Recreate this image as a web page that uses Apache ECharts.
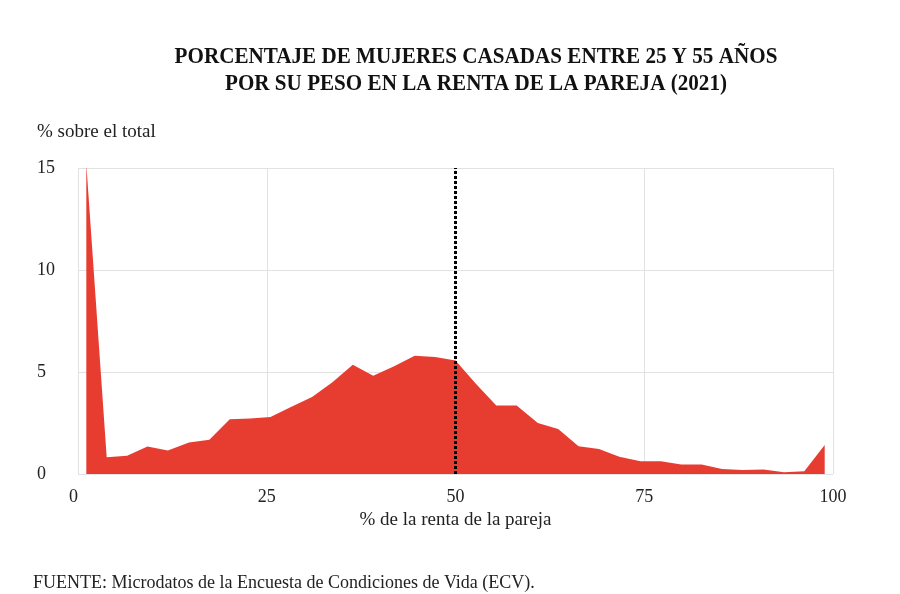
<!DOCTYPE html>
<html>
<head>
<meta charset="utf-8">
<script src="https://cdn.jsdelivr.net/npm/echarts@6/dist/echarts.min.js"></script>
<style>
  html, body { margin: 0; padding: 0; background: #fff; }
  #main { width: 900px; height: 594px; }
</style>
</head>
<body>
<div id="main"></div>
<script>
// % de la renta de la pareja (posicion de cada tramo)
var rentaX = [1.1, 3.8, 6.5, 9.2, 11.9, 14.7, 17.4, 20.1, 22.8, 25.5, 28.2, 31.0, 33.7,
              36.4, 39.1, 41.8, 44.6, 47.3, 50.0, 52.7, 55.4, 58.1, 60.9, 63.6, 66.3,
              69.0, 71.7, 74.5, 77.2, 79.9, 82.6, 85.3, 88.0, 90.8, 93.5, 96.2, 98.9];
// % sobre el total de mujeres
var porcentaje = [15.2, 0.82, 0.9, 1.35, 1.15, 1.55, 1.68, 2.68, 2.72, 2.79, 3.28, 3.78, 4.5,
                  5.36, 4.82, 5.27, 5.8, 5.74, 5.56, 4.43, 3.36, 3.36, 2.5, 2.2, 1.36,
                  1.23, 0.85, 0.62, 0.62, 0.46, 0.46, 0.24, 0.2, 0.22, 0.08, 0.14, 1.42];
var mitad = 50;

var serif = 'Liberation Serif';
var datos = rentaX.map(function (x, i) { return [x, porcentaje[i]]; });

var myChart = echarts.init(document.getElementById('main'));
var option = {
  backgroundColor: '#fff',
  animation: false,
  title: [
    { text: '% sobre el total', left: 37, top: 123, padding: 0,
      textStyle: { fontFamily: serif, fontSize: 19, fontWeight: 'normal', color: '#222' } },
    { text: 'FUENTE: Microdatos de la Encuesta de Condiciones de Vida (ECV).', left: 33, top: 574, padding: 0,
      textStyle: { fontFamily: serif, fontSize: 18, fontWeight: 'normal', color: '#222' } }
  ],
  graphic: [
    { type: 'text', x: 476, y: 57, scaleX: 0.88,
      style: { text: 'PORCENTAJE DE MUJERES CASADAS ENTRE 25 Y 55 AÑOS', font: 'bold 24px "Liberation Serif"',
               fill: '#111', textAlign: 'center', textVerticalAlign: 'middle' } },
    { type: 'text', x: 476, y: 84, scaleX: 0.88,
      style: { text: 'POR SU PESO EN LA RENTA DE LA PAREJA (2021)', font: 'bold 24px "Liberation Serif"',
               fill: '#111', textAlign: 'center', textVerticalAlign: 'middle' } }
  ],
  grid: { left: 78, right: 67, top: 168, bottom: 120 },
  xAxis: {
    type: 'value', min: 0, max: 100, interval: 25,
    name: '% de la renta de la pareja', nameLocation: 'middle', nameGap: 36,
    nameTextStyle: { fontFamily: serif, fontSize: 19, color: '#222' },
    axisLine: { show: false }, axisTick: { show: false },
    axisLabel: { fontFamily: serif, fontSize: 18, color: '#222', margin: 14, alignMinLabel: 'right' },
    splitLine: { show: true, lineStyle: { color: '#e2e2e2', width: 1 } }
  },
  yAxis: {
    type: 'value', min: 0, max: 15, interval: 5,
    axisLine: { show: false }, axisTick: { show: false },
    axisLabel: { fontFamily: serif, fontSize: 18, color: '#222', align: 'left', margin: 41 },
    splitLine: { show: true, lineStyle: { color: '#e2e2e2', width: 1 } }
  },
  series: [{
    type: 'line',
    data: datos,
    symbol: 'none',
    lineStyle: { width: 0 },
    areaStyle: { color: '#e73d31', opacity: 1 },
    markLine: {
      silent: true,
      symbol: ['none', 'none'],
      label: { show: false },
      lineStyle: { color: '#000', width: 3, type: [3, 2] },
      data: [{ xAxis: mitad }]
    }
  }]
};
myChart.setOption(option);
</script>
</body>
</html>
